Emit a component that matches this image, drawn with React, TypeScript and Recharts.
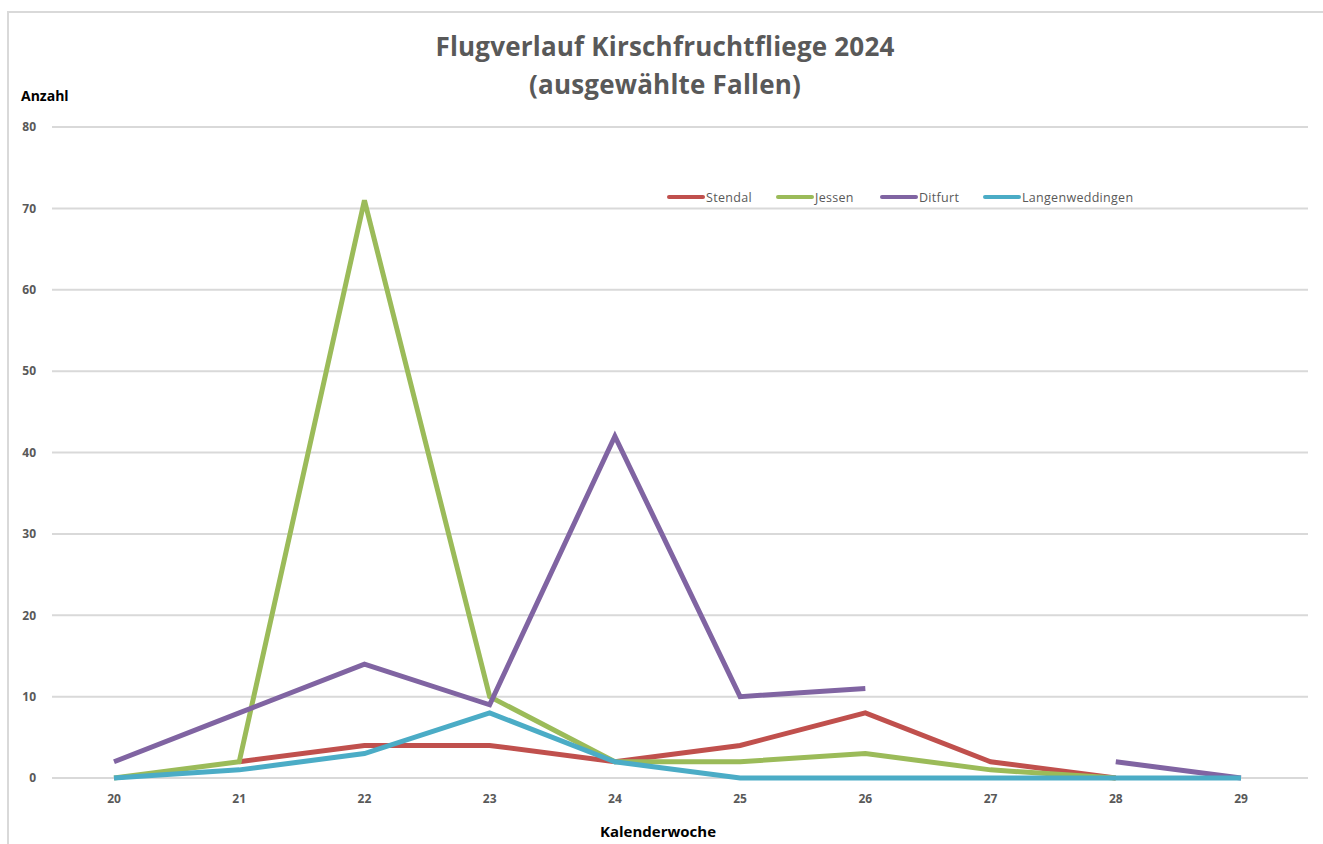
import React from "react";
import { LineChart, Line, XAxis, YAxis, CartesianGrid } from "recharts";

const weeks = ["20", "21", "22", "23", "24", "25", "26", "27", "28", "29"];
const stendal = [null, 2, 4, 4, 2, 4, 8, 2, 0, null];
const jessen = [0, 2, 71, 10, 2, 2, 3, 1, 0, null];
const ditfurt = [2, 8, 14, 9, 42, 10, 11, null, 2, 0];
const langenweddingen = [0, 1, 3, 8, 2, 0, 0, 0, 0, 0];
const yTicks = [0, 10, 20, 30, 40, 50, 60, 70, 80];

const seriesNames = ["Stendal", "Jessen", "Ditfurt", "Langenweddingen"];
const seriesColors = ["#C0504D", "#9BBB59", "#8064A2", "#4BACC6"];
const seriesValues = [stendal, jessen, ditfurt, langenweddingen];

const data = weeks.map((w, i) => {
  const row: Record<string, any> = { week: w };
  seriesNames.forEach((n, s) => {
    row[n] = seriesValues[s][i];
  });
  return row;
});

const font = "'Open Sans', 'Noto Sans', sans-serif";
const legendLeft = [667, 776, 880, 983];

export default function App() {
  return (
    <div style={{ position: "absolute", left: 0, top: 0, width: 1323, height: 844, overflow: "hidden", background: "#fff", fontFamily: font }}>
      <div style={{ position: "absolute", left: 7, top: 11, width: 1400, height: 900, border: "2px solid #d9d9d9", boxSizing: "border-box" }} />
      <div style={{ position: "absolute", left: 0, width: 1330, top: 27, textAlign: "center", fontSize: 26, fontWeight: 700, color: "#595959", lineHeight: "38px", letterSpacing: 0.2 }}>
        Flugverlauf Kirschfruchtfliege 2024
        <br />
        (ausgewählte Fallen)
      </div>
      <div style={{ position: "absolute", left: 21, top: 86, fontSize: 14, fontWeight: 700, color: "#000" }}>Anzahl</div>
      <div style={{ position: "absolute", left: 0, width: 1316, top: 821, textAlign: "center", fontSize: 15, fontWeight: 700, color: "#000" }}>Kalenderwoche</div>
      {seriesNames.map((n, i) => (
        <div key={n} style={{ position: "absolute", left: legendLeft[i], top: 188, height: 18, display: "flex", alignItems: "center", fontSize: 12.5, letterSpacing: 0.3, color: "#595959", whiteSpace: "nowrap" }}>
          <span style={{ display: "inline-block", width: 38, height: 4, background: seriesColors[i], borderRadius: 2, marginRight: 1 }} />
          {n}
        </div>
      ))}
      <div style={{ position: "absolute", left: 0, top: 0 }}>
        <LineChart width={1323} height={844} data={data} margin={{ top: 127, right: 15, bottom: 36, left: 0 }}>
          <CartesianGrid horizontal={true} vertical={false} stroke="#d9d9d9" strokeWidth={2} />
          <XAxis
            dataKey="week"
            height={30}
            padding={{ left: 62, right: 67 }}
            axisLine={false}
            tickLine={false}
            tickSize={0}
            tickMargin={16}
            tick={{ fill: "#595959", fontSize: 12, fontWeight: 700, fontFamily: font }}
          />
          <YAxis
            width={52}
            domain={[0, 80]}
            ticks={yTicks}
            axisLine={false}
            tickLine={false}
            tickSize={0}
            tickMargin={16}
            tick={{ fill: "#595959", fontSize: 12, fontWeight: 700, fontFamily: font }}
          />
          {seriesNames.map((n, i) => (
            <Line key={n} type="linear" dataKey={n} stroke={seriesColors[i]} strokeWidth={5} dot={false} isAnimationActive={false} />
          ))}
        </LineChart>
      </div>
    </div>
  );
}
